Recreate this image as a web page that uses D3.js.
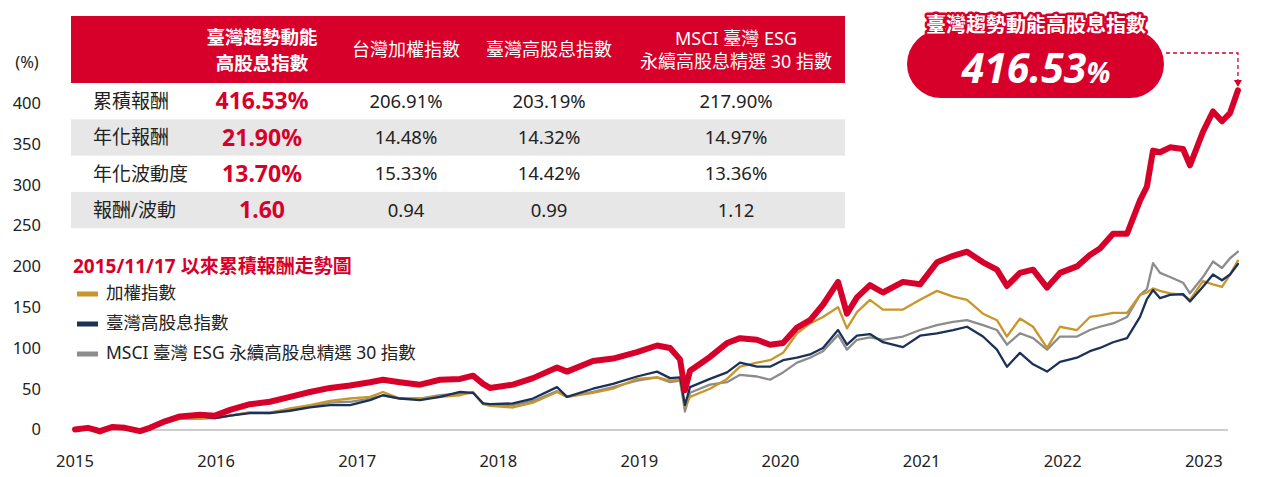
<!DOCTYPE html>
<html><head><meta charset="utf-8">
<script src="https://cdn.jsdelivr.net/npm/d3@7"></script>
<style>
html,body{margin:0;padding:0;background:#fff;}
svg{display:block;font-family:"Noto Sans","Noto Sans CJK TC","Noto Sans CJK SC",sans-serif;}
</style></head>
<body><svg id="c" width="1261" height="477"></svg>
<script>
// ---- data ----
const times = [2015.000,2015.092,2015.177,2015.262,2015.354,2015.461,2015.531,2015.638,2015.744,2015.886,
2015.992,2016.099,2016.240,2016.382,2016.524,2016.665,2016.807,2016.949,2017.091,2017.183,
2017.303,2017.445,2017.587,2017.729,2017.821,2017.892,2017.941,2018.104,2018.246,2018.416,
2018.487,2018.671,2018.813,2018.983,2019.125,2019.217,2019.288,2019.323,2019.359,2019.500,
2019.621,2019.713,2019.833,2019.926,2020.018,2020.117,2020.209,2020.301,2020.408,2020.471,
2020.542,2020.634,2020.726,2020.868,2020.989,2021.109,2021.223,2021.322,2021.435,2021.534,
2021.605,2021.697,2021.790,2021.889,2021.981,2022.101,2022.193,2022.264,2022.357,2022.456,
2022.548,2022.597,2022.640,2022.690,2022.761,2022.853,2022.902,2022.994,2023.065,2023.129,
2023.186,2023.242];
const momentum = [0,2,-2,3,2,-2,2,10,16,18, 17,24,31,34,40,46,51,54,58,61, 58,55,61,62,66,56,51,55,63,76,
71,84,87,95,103,100,86,48,72,89, 106,112,110,104,106,125,134,153,181,142, 162,177,168,181,178,205,213,218,205,196,
176,192,196,174,192,200,214,222,240,240, 281,298,342,340,346,344,324,365,390,378, 388,416];
const taiex = [0,1,-5,2,1,-3,1,8,13,13, 14,17,21,20,26,30,35,38,40,46, 38,38,40,42,46,31,29,27,33,46,
40,45,50,62,64,60,61,28,40,50, 62,77,82,85,94,118,130,138,150,124, 144,159,147,147,159,170,163,159,142,134,
114,136,126,100,126,122,138,140,143,143, 165,168,173,170,167,165,159,182,178,175, 190,207];
const highDiv = [0,2,-2,4,3,-2,3,10,15,16, 14,17,20,20,23,27,30,30,36,42, 38,36,40,46,45,32,31,32,38,52,
40,50,56,65,71,63,64,30,52,62, 70,82,77,77,85,88,92,100,122,104, 115,117,107,101,115,118,122,126,114,98,
77,94,80,71,83,88,96,100,107,112, 138,160,171,161,165,166,157,175,190,183, 190,203];
const msciEsg = [0,2,-3,3,2,-2,2,9,14,15, 14,17,21,21,25,28,33,34,38,42, 38,38,42,44,45,32,30,30,35,47,
40,46,52,60,64,58,60,22,45,55, 58,67,65,61,70,82,88,96,116,98, 110,113,110,114,122,128,132,134,128,122,
104,118,112,98,114,114,122,126,130,138, 165,172,204,192,187,180,167,187,206,198, 210,218];

const yTicks = [0,50,100,150,200,250,300,350,400];
const xTicks = [2015,2016,2017,2018,2019,2020,2021,2022,2023];

const tableHeaders = [["臺灣趨勢動能","高股息指數"],["台灣加權指數"],["臺灣高股息指數"],["MSCI 臺灣 ESG","永續高股息精選 30 指數"]];
const rowLabels = ["累積報酬","年化報酬","年化波動度","報酬/波動"];
const colMomentum = ["416.53%","21.90%","13.70%","1.60"];
const colTaiex = ["206.91%","14.48%","15.33%","0.94"];
const colHighDiv = ["203.19%","14.32%","14.42%","0.99"];
const colMsci = ["217.90%","14.97%","13.36%","1.12"];

const legendTitle = "2015/11/17 以來累積報酬走勢圖";
const legendNames = ["加權指數","臺灣高股息指數","MSCI 臺灣 ESG 永續高股息精選 30 指數"];
const calloutTitle = "臺灣趨勢動能高股息指數";
const calloutValue = "416.53";

// ---- styles ----
const RED = "#d7002a", GOLD = "#c9962b", NAVY = "#1b3157", GRAY = "#8c8c8c", TXT = "#222";

const svg = d3.select("#c");
const x = d3.scaleLinear().domain([2015, 2023]).range([75, 75 + 8 * 141.1]);
const y = d3.scaleLinear().domain([0, 400]).range([429.5, 103.3]);

// y axis labels
svg.append("g").selectAll("text").data(yTicks).join("text")
  .attr("x", 41).attr("y", d => y(d)).attr("dy", "0.35em").attr("text-anchor", "end")
  .attr("font-size", 16.5).attr("fill", TXT).text(d => d);
svg.append("text").attr("x", 27).attr("y", 62).attr("dy", "0.35em").attr("text-anchor", "middle")
  .attr("font-size", 16.5).attr("fill", TXT).text("(%)");

// x labels
svg.append("g").selectAll("text").data(xTicks).join("text")
  .attr("x", d => x(d)).attr("y", 461).attr("dy", "0.35em").attr("text-anchor", "middle")
  .attr("font-size", 16.5).attr("fill", TXT).text(d => d);

// zero line
svg.append("line").attr("x1", 75).attr("x2", 1228).attr("y1", y(0) + 0.5).attr("y2", y(0) + 0.5)
  .attr("stroke", "#bdbdbd").attr("stroke-width", 1.5);

// table
const tL = 71, tR = 845, hTop = 16, hBot = 83, rowH = 36.3;
svg.append("rect").attr("x", tL).attr("y", hTop).attr("width", tR - tL).attr("height", hBot - hTop).attr("fill", RED);
rowLabels.forEach((r, i) => {
  if (i % 2 === 1) svg.append("rect").attr("x", tL).attr("y", hBot + i * rowH).attr("width", tR - tL).attr("height", rowH).attr("fill", "#e7e7e7");
});
const colX = [262, 406, 549, 736];
tableHeaders.forEach((h, ci) => {
  const bold = ci === 0;
  const lh = bold ? 25.5 : 23.5;
  const cy = bold ? 50.5 : 50;
  const t = svg.append("text").attr("text-anchor", "middle").attr("fill", "#fff")
    .attr("font-size", bold ? 18.5 : 18).attr("font-weight", bold ? 700 : 400);
  h.forEach((line, li) => {
    t.append("tspan").attr("x", colX[ci]).attr("y", cy + (li - (h.length - 1) / 2) * lh).attr("dy", "0.36em").text(line);
  });
});
const cols = [colMomentum, colTaiex, colHighDiv, colMsci];
rowLabels.forEach((r, i) => {
  const cy = hBot + i * rowH + rowH / 2;
  svg.append("text").attr("x", 93).attr("y", cy).attr("dy", "0.36em").attr("font-size", 19).attr("fill", TXT).text(r);
  cols.forEach((c, ci) => {
    svg.append("text").attr("x", colX[ci]).attr("y", cy).attr("dy", "0.36em").attr("text-anchor", "middle")
      .attr("font-size", ci === 0 ? 23 : 18.5).attr("font-weight", ci === 0 ? 700 : 400)
      .attr("fill", ci === 0 ? RED : TXT).text(c[i]);
  });
});

// legend
svg.append("text").attr("x", 73).attr("y", 266).attr("dy", "0.36em").attr("font-size", 19).attr("font-weight", 700)
  .attr("fill", RED).text(legendTitle);
const legColors = [GOLD, NAVY, GRAY];
legendNames.forEach((n, i) => {
  const ly = 294 + i * 30;
  svg.append("line").attr("x1", 77).attr("x2", 98).attr("y1", ly).attr("y2", ly)
    .attr("stroke", legColors[i]).attr("stroke-width", 5);
  svg.append("text").attr("x", 106).attr("y", ly - 1).attr("dy", "0.36em").attr("font-size", 17.5).attr("fill", TXT).text(n);
});

// lines
const line = vals => d3.line().x((d, i) => x(times[i])).y(d => y(d))(vals);
[[msciEsg, GRAY, 2.3], [taiex, GOLD, 2.3], [highDiv, NAVY, 2.3], [momentum, RED, 6]].forEach(([v, c, w]) => {
  svg.append("path").attr("d", line(v)).attr("fill", "none").attr("stroke", c).attr("stroke-width", w)
    .attr("stroke-linejoin", "round").attr("stroke-linecap", "round");
});

// callout
svg.append("rect").attr("x", 907).attr("y", 30).attr("width", 257).attr("height", 68).attr("rx", 34).attr("fill", RED);
svg.append("text").attr("x", 1036).attr("y", 25).attr("dy", "0.36em").attr("text-anchor", "middle")
  .attr("font-size", 20).attr("font-weight", 700).attr("fill", "#fff")
  .attr("stroke", RED).attr("stroke-width", 5).attr("paint-order", "stroke").attr("stroke-linejoin", "round")
  .text(calloutTitle);
const cv = svg.append("text").attr("x", 1036).attr("y", 83).attr("text-anchor", "middle")
  .attr("fill", "#fff").attr("font-weight", 700).attr("font-style", "italic");
cv.append("tspan").attr("font-size", 41).text(calloutValue);
cv.append("tspan").attr("font-size", 28).text("%");

// dashed arrow
const endX = x(times[times.length - 1]);
svg.append("path").attr("d", `M1166,53 H${endX} V80`).attr("fill", "none").attr("stroke", RED)
  .attr("stroke-width", 1.3).attr("stroke-dasharray", "4,3");
svg.append("path").attr("d", `M${endX - 4},80 L${endX + 4},80 L${endX},87 Z`).attr("fill", RED);
</script></body></html>
